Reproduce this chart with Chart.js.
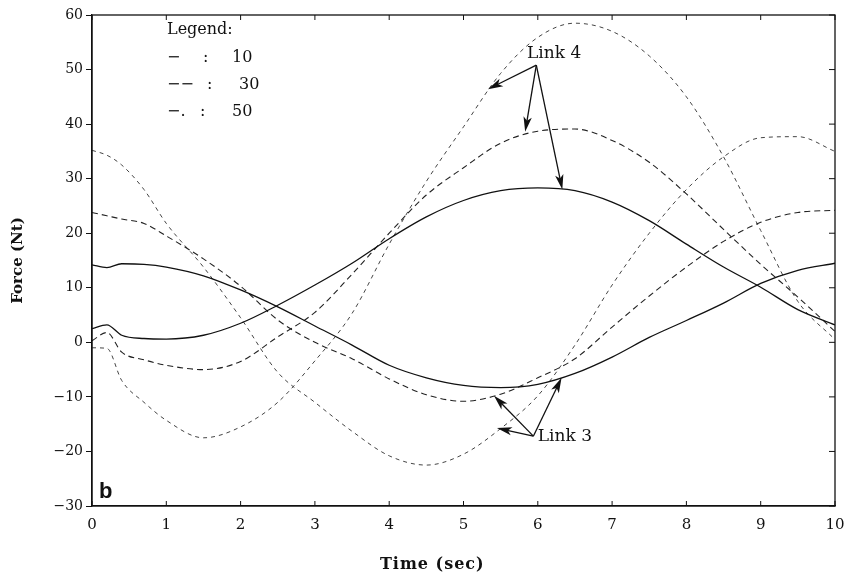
<!DOCTYPE html>
<html>
<head>
<meta charset="utf-8">
<script src="https://cdn.jsdelivr.net/npm/chart.js@4.4.1/dist/chart.umd.min.js"></script>
<style>
  html,body{margin:0;padding:0;background:#fff;}
  #wrap{width:850px;height:584px;}
</style>
</head>
<body>
<div id="wrap"><canvas id="c" width="850" height="584"></canvas></div>
<script>
// ---- Data ----
const time     = [0,0.2,0.4,0.7,1,1.5,2,2.5,3,3.5,4,4.5,5,5.5,6,6.5,7,7.5,8,8.5,9,9.5,10];
const link3_10 = [14.2,13.7,14.4,14.3,13.8,12.2,9.6,6.5,3.0,-0.5,-4.2,-6.5,-7.9,-8.3,-7.7,-5.7,-2.7,0.9,4.0,7.2,10.8,13.2,14.5];
const link4_10 = [2.5,3.2,1.3,0.7,0.6,1.3,3.5,6.8,10.5,14.5,19.0,23.0,26.0,27.8,28.3,27.8,25.7,22.3,18.0,13.8,10.1,6.0,3.2];
const link3_30 = [23.8,23.2,22.6,21.8,19.5,15.3,10.3,4.1,0.0,-3.0,-6.7,-9.6,-10.8,-9.5,-6.5,-3.0,2.8,8.5,13.8,18.5,22.0,23.8,24.2];
const link4_30 = [0.3,1.8,-1.8,-3.2,-4.2,-5.0,-3.5,1.0,5.5,12.5,20.0,27.0,32.0,36.5,38.7,39.1,37.0,33.0,27.2,20.7,14.3,8.3,2.0];
const link3_50 = [35.2,34.3,32.5,28.0,21.8,13.8,4.5,-5.5,-11.0,-16.3,-20.8,-22.5,-20.5,-15.8,-9.8,-0.5,10.5,20.0,28.0,34.0,37.5,37.7,35.0];
const link4_50 = [-1.0,-1.1,-7.0,-11.0,-14.3,-17.5,-15.5,-11.0,-3.4,5.3,18.0,29.5,39.5,49.3,55.9,58.5,57.0,52.5,45.0,34.0,20.5,7.5,0.5];

const xTicks = [0,1,2,3,4,5,6,7,8,9,10];
const yTicks = [-30,-20,-10,0,10,20,30,40,50,60];

const xTitle = 'Time (sec)';
const yTitle = 'Force (Nt)';
const legendRows = [["Legend:","",""],["\u2212",":","10"],["\u2212\u2212",":","30"],["\u2212.",":","50"]];

const link4Label = [6.22, 52.9];
const link4From  = [5.98, 50.8];
const link4Tips  = [[5.33,46.4],[5.83,38.6],[6.33,28.0]];
const link3Label = [6.0, -17.3];
const link3From  = [5.94, -17.2];
const link3Tips  = [[5.41,-9.8],[5.45,-15.7],[6.32,-6.5]];

// ---- build ----
const pts = arr => time.map((t,i)=>({x:t,y:arr[i]}));
const SERIF = '"DejaVu Serif","Liberation Serif",serif';

function ds(label, arr, dash, color, width){
  return {label, data: pts(arr), borderColor: color, borderWidth: width,
    borderDash: dash, pointRadius: 0, fill: false, cubicInterpolationMode: 'monotone'};
}

function arrow(ctx, x0,y0,x1,y1){
  const ang = Math.atan2(y1-y0, x1-x0);
  const L = 15, W = 4.2;
  ctx.beginPath(); ctx.moveTo(x0,y0); ctx.lineTo(x1 - Math.cos(ang)*L*0.7, y1 - Math.sin(ang)*L*0.7); ctx.stroke();
  ctx.beginPath();
  ctx.moveTo(x1,y1);
  ctx.lineTo(x1 - L*Math.cos(ang) + W*Math.sin(ang), y1 - L*Math.sin(ang) - W*Math.cos(ang));
  ctx.lineTo(x1 - L*0.75*Math.cos(ang), y1 - L*0.75*Math.sin(ang));
  ctx.lineTo(x1 - L*Math.cos(ang) - W*Math.sin(ang), y1 - L*Math.sin(ang) + W*Math.cos(ang));
  ctx.closePath(); ctx.fill();
}

const decor = {
  id: 'decor',
  afterDraw(chart){
    const {ctx, chartArea: a, scales:{x,y}} = chart;
    ctx.save();
    ctx.strokeStyle = '#111'; ctx.fillStyle = '#111';
    // box
    ctx.lineWidth = 1.3;
    ctx.strokeRect(a.left, a.top, a.right-a.left, a.bottom-a.top);
    // inward ticks
    ctx.lineWidth = 1;
    xTicks.forEach(v=>{
      const px = x.getPixelForValue(v);
      ctx.beginPath(); ctx.moveTo(px, a.bottom); ctx.lineTo(px, a.bottom-5); ctx.stroke();
      ctx.beginPath(); ctx.moveTo(px, a.top); ctx.lineTo(px, a.top+5); ctx.stroke();
    });
    yTicks.forEach(v=>{
      const py = y.getPixelForValue(v);
      ctx.beginPath(); ctx.moveTo(a.right, py); ctx.lineTo(a.right-6, py); ctx.stroke();
    });
    // x axis title (offset left of centre as in the reference)
    ctx.font = 'bold 16px ' + SERIF;
    ctx.textAlign = 'center'; ctx.textBaseline = 'middle';
    try { ctx.letterSpacing = '1px'; } catch(e) {}
    ctx.fillText(xTitle, a.left + (a.right - a.left) * 0.458, 565);
    try { ctx.letterSpacing = '0px'; } catch(e) {}
    // legend text
    ctx.textAlign = 'left';
    ctx.font = '16px ' + SERIF;
    ctx.textBaseline = 'alphabetic';
    const lx = a.left + 75;
    const rowsY = [34, 62, 89, 116];
    const colX = [[0,0,0],[0,36,65],[0,40,72],[0,33,65]];
    legendRows.forEach((r,i)=>{
      r.forEach((s,j)=>{ if(s) ctx.fillText(s, lx + colX[i][j], rowsY[i]); });
    });
    // "b"
    ctx.font = 'bold 22px "Liberation Sans", Arial, sans-serif';
    ctx.fillText('b', a.left + 7, a.bottom - 8);
    // annotations
    ctx.font = '17px ' + SERIF;
    ctx.lineWidth = 1.3;
    ctx.textAlign = 'center'; ctx.textBaseline = 'middle';
    ctx.fillText('Link 4', x.getPixelForValue(link4Label[0]), y.getPixelForValue(link4Label[1]));
    ctx.textAlign = 'left';
    ctx.fillText('Link 3', x.getPixelForValue(link3Label[0]), y.getPixelForValue(link3Label[1]));
    const fx4 = x.getPixelForValue(link4From[0]), fy4 = y.getPixelForValue(link4From[1]);
    link4Tips.forEach(t=> arrow(ctx, fx4, fy4, x.getPixelForValue(t[0]), y.getPixelForValue(t[1])));
    const fx3 = x.getPixelForValue(link3From[0]), fy3 = y.getPixelForValue(link3From[1]);
    link3Tips.forEach(t=> arrow(ctx, fx3, fy3, x.getPixelForValue(t[0]), y.getPixelForValue(t[1])));
    ctx.restore();
  }
};

new Chart(document.getElementById('c'), {
  type: 'line',
  data: { datasets: [
    ds('Link 3 (10)', link3_10, [], '#111', 1.3),
    ds('Link 4 (10)', link4_10, [], '#111', 1.3),
    ds('Link 3 (30)', link3_30, [6,4], '#222', 1.1),
    ds('Link 4 (30)', link4_30, [6,4], '#222', 1.1),
    ds('Link 3 (50)', link3_50, [4,4], '#444', 1.0),
    ds('Link 4 (50)', link4_50, [4,4], '#444', 1.0),
  ]},
  options: {
    responsive: false, animation: false,
    layout: { padding: { top: 15, right: 15, left: 0, bottom: 0 } },
    plugins: { legend: { display: false }, tooltip: { enabled: false } },
    scales: {
      x: {
        type: 'linear', min: 0, max: 10,
        afterBuildTicks: s => { s.ticks = xTicks.map(v=>({value:v})); },
        afterFit: s => { s.height = 78; s.paddingLeft = 0; s.paddingRight = 0; },
        grid: { display: true, drawOnChartArea: false, drawTicks: false },
        border: { display: true, color: '#111', width: 1.3 },
        ticks: { padding: 10, color: '#111', font: { family: SERIF, size: 15 }, maxRotation: 0 },
        title: { display: false }
      },
      y: {
        min: -30, max: 60,
        afterBuildTicks: s => { s.ticks = yTicks.map(v=>({value:v})); },
        afterFit: s => { s.width = 92; s.paddingTop = 0; s.paddingBottom = 0; },
        grid: { display: true, drawOnChartArea: false, drawTicks: true, tickLength: 6, color: '#111' },
        border: { display: true, color: '#111', width: 1.3 },
        ticks: { padding: 3, color: '#111', font: { family: SERIF, size: 14 },
          callback: v => (v < 0 ? '\u2212' + Math.abs(v) : String(v)) },
        title: { display: true, text: yTitle, color: '#111', font: { family: SERIF, size: 15, weight: 'bold' }, padding: { top: 9, bottom: 0 } }
      }
    }
  },
  plugins: [decor]
});
</script>
</body>
</html>
